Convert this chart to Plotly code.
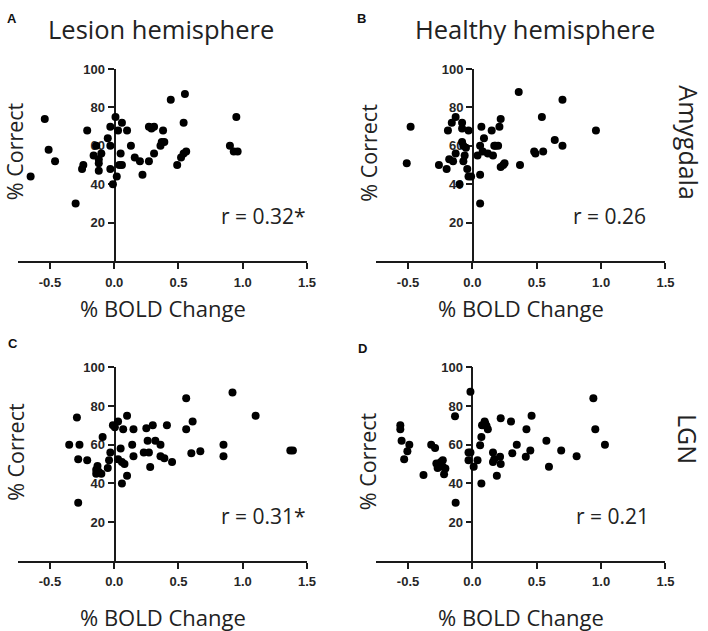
import plotly.graph_objects as go

# ---------------- data ----------------
a_x = [-0.65,-0.54,-0.51,-0.46,-0.30,-0.25,-0.24,-0.21,-0.16,-0.14,-0.12,-0.12,-0.12,-0.10,-0.05,-0.03,-0.03,-0.03,-0.01,0.01,0.03,0.02,0.06,0.05,0.04,0.06,0.10,0.13,0.16,0.20,0.22,0.27,0.27,0.29,0.31,0.31,0.36,0.37,0.38,0.39,0.44,0.49,0.52,0.54,0.55,0.54,0.56,0.90,0.93,0.96,0.95]
a_y = [44,74,58,52,30,48,50,68,55,60,53,51,47,56,64,70,60,48,40,75,68,44,72,56,50,50,68,60,54,52,45,52,70,69,70,56,60,62,68,62,84,50,54,72,87,56,57,60,57,57,75]

b_x = [-0.48,-0.51,-0.26,-0.20,-0.19,-0.18,-0.16,-0.15,-0.13,-0.13,-0.10,-0.08,-0.08,-0.08,-0.07,-0.07,-0.06,-0.05,-0.04,-0.03,-0.03,-0.01,0.04,0.06,0.06,0.06,0.07,0.08,0.09,0.12,0.15,0.16,0.17,0.18,0.20,0.21,0.22,0.22,0.24,0.25,0.36,0.37,0.48,0.49,0.54,0.55,0.64,0.70,0.70,0.96]
b_y = [70,51,50,48,68,53,72,52,75,56,40,62,72,69,60,52,55,59,48,68,44,44,55,60,45,30,70,57,64,56,68,55,60,60,60,70,74,49,50,51,88,50,57,56,75,57,63,84,60,68]

c_x = [-0.35,-0.27,-0.29,-0.28,-0.21,-0.28,-0.13,-0.14,-0.14,-0.10,-0.12,-0.09,-0.05,-0.04,-0.03,-0.01,0.005,0.03,0.05,0.03,0.06,0.08,0.07,0.10,0.10,0.06,0.14,0.15,0.15,0.23,0.25,0.27,0.26,0.30,0.32,0.28,0.36,0.36,0.39,0.41,0.45,0.56,0.56,0.61,0.60,0.67,0.85,0.85,0.92,1.10,1.37,1.39]
c_y = [60,60,74,52.5,52,30,49,47,45,45,46,64,48,52,56,70,69,72,58,52.5,51,50,68,75,44,40,60,68,54,56,68.5,56,62,70,62,48.5,60,54,53,70,51,84,68,72,55.6,56.6,60,54,87,75,57,57]

d_x = [-0.56,-0.56,-0.55,-0.49,-0.505,-0.53,-0.38,-0.32,-0.29,-0.28,-0.27,-0.245,-0.23,-0.23,-0.22,-0.21,-0.13,-0.135,-0.015,-0.03,-0.015,-0.03,0.01,0.04,0.06,0.07,0.07,0.075,0.095,0.11,0.12,0.10,0.16,0.16,0.17,0.215,0.22,0.19,0.22,0.30,0.31,0.345,0.415,0.42,0.46,0.45,0.575,0.595,0.69,0.81,0.94,0.955,1.03]
d_y = [70,68,62,60,56.6,52.5,44.3,60,58.3,50.3,48,51,48.6,52,44.7,47.7,30,74.7,87.3,56,56,52,48.6,52,59.7,64,40,70,72,69.6,68,71,56,51,52.5,53.7,50,44,73.7,72,55.6,60,53.7,68,75,57,62,48.6,57,54,84,68,60]

x_tickvals = [-0.5, 0.0, 0.5, 1.0, 1.5]
x_ticktext = ["-0.5", "0.0", "0.5", "1.0", "1.5"]
y_tickvals = [20, 40, 60, 80, 100]
y_ticktext = ["20", "40", "60", "80", "100"]

panel_letters = ["A", "B", "C", "D"]
r_labels = ["r = 0.32*", "r = 0.26", "r = 0.31*", "r = 0.21"]
col_titles = ["Lesion hemisphere", "Healthy hemisphere"]
row_labels = ["Amygdala", "LGN"]
x_title = "% BOLD Change"
y_title = "% Correct"

# ---------------- layout geometry ----------------
W, H = 708, 631
def px(x): return x / W
def py(y): return 1 - y / H

xdoms = [[px(18), px(311)], [px(380.7), px(674)], [px(18), px(311)], [px(380.7), px(674)]]
ydoms = [[py(257), py(62.7)], [py(257), py(62.7)], [py(560), py(364.3)], [py(560), py(364.3)]]
ypos = [px(116), px(479), px(116), px(478.5)]

series = [(a_x, a_y), (b_x, b_y), (c_x, c_y), (d_x, d_y)]

fig = go.Figure()
axis_color = "#1a1a1a"
tickfont = dict(family="Liberation Sans, Arial, sans-serif", size=13, color="#262626", weight="bold")

layout = dict(width=W, height=H, autosize=False, margin=dict(l=0, r=0, t=0, b=0),
              paper_bgcolor="white", plot_bgcolor="white", showlegend=False)

for i, (xs, ys) in enumerate(series):
    n = "" if i == 0 else str(i + 1)
    fig.add_trace(go.Scatter(x=xs, y=ys, mode="markers", xaxis="x" + n, yaxis="y" + n,
                             marker=dict(color="black", size=8, line=dict(width=0)),
                             hoverinfo="x+y"))
    layout["xaxis" + n] = dict(domain=xdoms[i], range=[-0.75, 1.5], anchor="y" + n,
                               tickvals=x_tickvals, ticktext=x_ticktext,
                               showline=True, linecolor=axis_color, linewidth=1.7,
                               ticks="outside", ticklen=6, tickwidth=1.7, tickcolor=axis_color,
                               ticklabelstandoff=2,
                               showgrid=False, zeroline=False, tickfont=tickfont)
    layout["yaxis" + n] = dict(domain=ydoms[i], range=[0, 100], anchor="free", position=ypos[i],
                               tickvals=y_tickvals, ticktext=y_ticktext,
                               showline=True, linecolor=axis_color, linewidth=1.7,
                               ticks="outside", ticklen=6, tickwidth=1.7, tickcolor=axis_color,
                               showgrid=False, zeroline=False, tickfont=tickfont,
                               layer="below traces")

fig.update_layout(**layout)

title_font = dict(family="Open Sans, Noto Sans, sans-serif", size=25.5, color="#222222")
lab_font = dict(family="Open Sans, Noto Sans, sans-serif", size=22, color="#222222")
ylab_font = dict(family="Open Sans, Noto Sans, sans-serif", size=21.5, color="#222222")
row_font = dict(family="Open Sans, Noto Sans, sans-serif", size=25, color="#222222")
r_font = dict(family="Open Sans, Noto Sans, sans-serif", size=21, color="#222222")
letter_font = dict(family="Liberation Sans, Arial, sans-serif", size=13, color="#111111", weight="bold")

ann = []
def add(text, x, y, font, angle=0):
    ann.append(dict(text=text, x=px(x), y=py(y), xref="paper", yref="paper",
                    xanchor="center", yanchor="middle", showarrow=False,
                    font=font, textangle=angle))

add(col_titles[0], 163.5, 22, title_font)
add(col_titles[1], 542, 22, title_font)

letter_pos = [(12, 12), (366, 12), (13, 340), (367, 345)]
for t, (x, y) in zip(panel_letters, letter_pos):
    add(t, x, y, letter_font)

xt_pos = [(165, 304), (528, 304), (165, 617), (528, 617)]
for x, y in xt_pos:
    add(x_title, x, y, lab_font)

yt_pos = [(15, 146), (373, 147), (15, 450), (373, 459)]
for x, y in yt_pos:
    add(y_title, x, y, ylab_font, -90)

r_pos = [(267, 211), (617, 211), (266.5, 515), (620.5, 515)]
for t, (x, y) in zip(r_labels, r_pos):
    add(t, x, y, r_font)

add(row_labels[0], 697, 137, row_font, 90)
add(row_labels[1], 697, 437, row_font, 90)

fig.update_layout(annotations=ann)
fig.write_html("out.html", config={"displayModeBar": False},
               post_script="document.body.style.margin='0px';document.body.style.overflow='hidden';")
